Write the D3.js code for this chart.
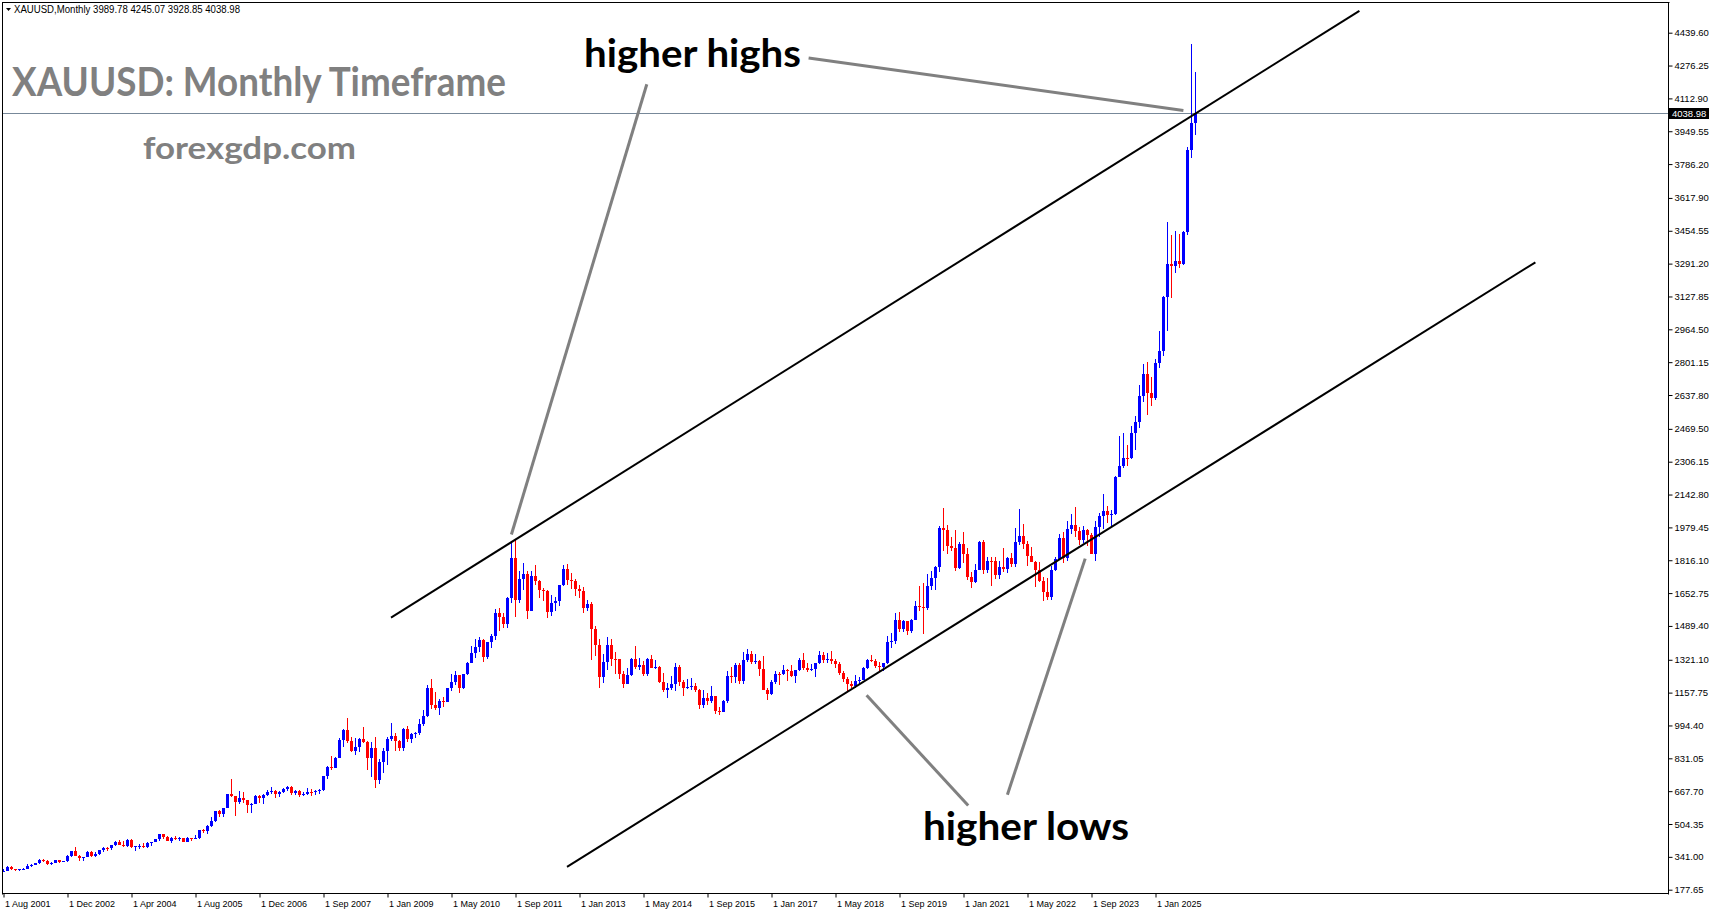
<!DOCTYPE html>
<html>
<head>
<meta charset="utf-8">
<script src="https://cdn.jsdelivr.net/npm/d3@7"></script>
<style>
  html, body { margin: 0; padding: 0; background: #ffffff; }
  svg { display: block; }
</style>
</head>
<body>
<div id="chart"></div>
<script>
// ---------------- DATA ----------------
// Monthly XAUUSD bars, Aug 2001 .. Nov 2025 (broker feed has 7 extra bars in 2007)
const open = [
  265,273,293,279,275,
  279,282,297,302,308,327,318,304,312,324,317,319,
  347,368,347,334,339,364,346,354,375,384,383,398,
  416,400,396,427,388,394,395,391,408,416,428,453,
  438,422,435,428,435,417,435,429,433,473,470,495,
  517,568,556,582,654,643,613,633,624,599,604,646,
  632,650,665,668,655,663,679,686,659,667,650,656,665,662,668,
  672,743,789,783,
  834,923,972,916,865,885,928,912,833,880,724,814,
  869,928,942,917,883,978,927,954,955,1001,1040,1182,
  1096,1083,1118,1113,1179,1213,1244,1181,1248,1307,1357,1386,
  1421,1333,1410,1439,1556,1536,1500,1628,1826,1620,1722,1746,
  1564,1738,1711,1668,1664,1560,1604,1614,1692,1773,1719,1712,
  1675,1663,1578,1596,1472,1393,1234,1312,1395,1326,1323,1250,
  1202,1244,1326,1284,1296,1250,1327,1282,1287,1210,1171,1182,
  1199,1283,1212,1183,1184,1190,1172,1095,1132,1115,1142,1065,
  1061,1118,1238,1233,1293,1215,1321,1351,1309,1316,1277,1173,
  1151,1211,1249,1248,1268,1267,1242,1269,1322,1280,1271,1275,
  1303,1345,1318,1325,1315,1299,1253,1224,1201,1192,1215,1222,
  1282,1321,1313,1292,1284,1305,1409,1413,1520,1472,1513,1464,
  1517,1589,1585,1577,1686,1730,1781,1975,1968,1886,1879,1776,
  1898,1847,1734,1708,1769,1906,1770,1814,1813,1743,1783,1774,
  1829,1797,1909,1937,1896,1837,1807,1766,1711,1660,1633,1768,
  1824,1928,1827,1969,1990,1963,1919,1965,1940,1849,1983,2036,
  2063,2039,2044,2230,2286,2327,2326,2447,2503,2635,2744,2650,
  2625,2798,2858,3123,3288,3280,3303,3290,3448,3858,3989.78
];
const high = [
  280,294,294,279,280,
  284,304,304,311,328,330,323,317,326,325,322,350,
  372,389,352,342,372,368,366,377,391,392,399,418,
  427,419,428,429,397,403,410,416,416,431,456,456,
  443,438,446,438,436,442,437,448,474,478,497,540,
  570,575,586,654,730,643,668,663,625,610,649,648,
  652,671,690,672,668,682,694,692,672,672,663,683,676,674,676,
  744,795,845,838,
  930,975,1033,935,932,934,988,919,910,935,830,883,
  935,1006,958,921,983,990,959,964,1025,1070,1195,1227,
  1162,1127,1138,1183,1249,1265,1244,1251,1308,1388,1424,1432,
  1424,1411,1447,1575,1577,1556,1632,1913,1921,1764,1803,1764,
  1764,1791,1720,1677,1668,1641,1631,1693,1790,1796,1754,1723,
  1694,1683,1617,1606,1487,1423,1348,1434,1425,1361,1324,1267,
  1280,1332,1392,1332,1315,1332,1345,1322,1288,1255,1208,1239,
  1307,1294,1220,1224,1232,1205,1175,1170,1157,1191,1143,1088,
  1123,1263,1283,1304,1304,1362,1375,1367,1352,1318,1338,1180,
  1220,1264,1262,1296,1274,1296,1270,1331,1357,1306,1299,1306,
  1366,1361,1356,1365,1326,1309,1266,1236,1214,1243,1237,1284,
  1326,1346,1324,1310,1306,1439,1453,1555,1557,1517,1516,1525,
  1611,1689,1704,1748,1765,1786,1984,2075,1992,1933,1966,1906,
  1959,1875,1756,1798,1913,1916,1834,1832,1834,1814,1877,1831,
  1853,1974,2070,1998,1910,1880,1814,1808,1735,1730,1786,1833,
  1949,1959,2009,2048,2079,1983,1987,1972,1953,2009,2052,2145,
  2088,2065,2236,2432,2450,2388,2484,2532,2686,2790,2801,2726,
  2817,2956,3128,3500,3435,3452,3439,3453,3872,4381,4245.07
];
const low = [
  264,270,276,270,271,
  277,281,289,299,306,313,301,301,310,311,314,317,
  342,345,321,322,338,342,341,350,366,370,377,396,
  398,392,390,385,371,381,386,387,397,413,422,430,
  418,411,423,421,414,414,418,428,432,462,457,489,
  516,538,540,582,637,543,606,610,560,560,604,607,
  603,646,656,636,640,660,670,651,649,640,642,648,643,649,656,
  667,726,774,781,
  834,887,905,864,850,862,908,774,736,681,705,758,
  800,915,866,865,869,914,908,930,949,992,1035,1075,
  1072,1044,1088,1110,1165,1197,1157,1176,1243,1307,1331,1361,
  1309,1325,1381,1417,1462,1477,1478,1604,1532,1605,1667,1523,
  1563,1695,1627,1614,1527,1540,1565,1587,1688,1692,1673,1636,
  1626,1555,1562,1321,1339,1180,1208,1271,1292,1251,1226,1182,
  1202,1238,1277,1268,1240,1240,1281,1273,1205,1161,1131,1170,
  1167,1191,1142,1176,1169,1162,1077,1080,1098,1107,1053,1046,
  1060,1106,1208,1207,1199,1200,1310,1302,1302,1241,1171,1122,
  1146,1200,1195,1244,1214,1236,1205,1267,1272,1260,1264,1236,
  1302,1307,1303,1302,1282,1245,1211,1160,1180,1182,1196,1221,
  1276,1310,1281,1266,1267,1301,1381,1400,1459,1459,1445,1455,
  1517,1563,1451,1567,1670,1670,1757,1863,1849,1860,1765,1775,
  1802,1717,1677,1705,1766,1750,1751,1688,1721,1721,1758,1753,
  1780,1781,1890,1872,1787,1805,1681,1709,1614,1617,1616,1765,
  1823,1804,1810,1949,1932,1893,1903,1885,1846,1810,1931,1973,
  2002,1985,2039,2229,2277,2287,2319,2364,2472,2604,2537,2583,
  2614,2772,2833,2957,3121,3246,3268,3282,3436,3815,3928.85
];
const close = [
  273,293,279,275,279,
  282,297,302,308,327,318,304,312,324,317,319,347,
  368,347,334,339,364,346,354,375,384,383,398,416,
  400,396,427,388,394,395,391,408,416,428,453,438,
  422,435,428,435,417,435,429,433,473,470,495,517,
  568,556,582,654,643,613,633,624,599,604,646,632,
  650,665,668,655,663,679,686,659,667,650,656,665,662,668,672,
  743,789,783,834,
  923,972,916,865,885,928,912,833,880,724,814,869,
  928,942,917,883,978,927,954,955,1001,1040,1182,1096,
  1083,1118,1113,1179,1213,1244,1181,1248,1307,1357,1386,1421,
  1333,1410,1439,1556,1536,1500,1628,1826,1620,1722,1746,1564,
  1738,1711,1668,1664,1560,1604,1614,1692,1773,1719,1712,1675,
  1663,1578,1596,1472,1393,1234,1312,1395,1326,1323,1250,1202,
  1244,1326,1284,1296,1250,1327,1282,1287,1210,1171,1182,1199,
  1283,1212,1183,1184,1190,1172,1095,1132,1115,1142,1065,1061,
  1118,1238,1233,1293,1215,1321,1351,1309,1316,1277,1173,1151,
  1211,1249,1248,1268,1267,1242,1269,1322,1280,1271,1275,1303,
  1345,1318,1325,1315,1299,1253,1224,1201,1192,1215,1222,1282,
  1321,1313,1292,1284,1305,1409,1413,1520,1472,1513,1464,1517,
  1589,1585,1577,1686,1730,1781,1975,1968,1886,1879,1776,1898,
  1847,1734,1708,1769,1906,1770,1814,1813,1743,1783,1774,1829,
  1797,1909,1937,1896,1837,1807,1766,1711,1660,1633,1768,1824,
  1928,1827,1969,1990,1963,1919,1965,1940,1849,1983,2036,2063,
  2039,2044,2230,2286,2327,2326,2447,2503,2635,2744,2650,2625,
  2798,2858,3123,3288,3280,3303,3290,3448,3858,3989.78,4038.98
];

// time axis labels (one every 16 bars)
const timeLabels = ["1 Aug 2001","1 Dec 2002","1 Apr 2004","1 Aug 2005","1 Dec 2006",
  "1 Sep 2007","1 Jan 2009","1 May 2010","1 Sep 2011","1 Jan 2013","1 May 2014",
  "1 Sep 2015","1 Jan 2017","1 May 2018","1 Sep 2019","1 Jan 2021","1 May 2022",
  "1 Sep 2023","1 Jan 2025"];
const timeLabelStep = 16;

// price axis labels
const priceTicks = [4439.60,4276.25,4112.90,3949.55,3786.20,3617.90,3454.55,3291.20,
  3127.85,2964.50,2801.15,2637.80,2469.50,2306.15,2142.80,1979.45,1816.10,1652.75,
  1489.40,1321.10,1157.75,994.40,831.05,667.70,504.35,341.00,177.65];

const symbol = "XAUUSD,Monthly";
const lastPrice = 4038.98;

// trend channel lines: [barIndex, price]
const upperChannel = [[97.0, 1531], [339.1, 4548]];
const lowerChannel = [[141.0, 291.5], [383.1, 3297.7]];
// annotation pointers: [barIndex, price]
const pointers = [
  [[201.4, 4314], [295.1, 4053]],
  [[160.95, 4183], [127.1, 1944]],
  [[215.9, 1145], [241.3, 596]],
  [[270.55, 1824], [251.1, 650]]
];

// ---------------- CHART ----------------
const W = 1714, H = 915;
const plotRight = 1669, plotBottom = 894;

const svg = d3.select("#chart").append("svg")
  .attr("width", W).attr("height", H)
  .style("font-family", "'Liberation Sans', Arial, sans-serif");

svg.append("rect").attr("width", W).attr("height", H).attr("fill", "#ffffff");

const x = d3.scaleLinear().domain([0, 416.5]).range([3, 3 + 416.5 * 4]);
const y = d3.scaleLinear().domain([177.65, 4439.60]).range([889.7, 32.7]);

const plot = svg.append("g");
svg.append("clipPath").attr("id", "clip")
  .append("rect").attr("x", 2).attr("y", 2).attr("width", plotRight - 2).attr("height", plotBottom - 2);
const inner = plot.append("g").attr("clip-path", "url(#clip)");

// last price line
inner.append("line")
  .attr("x1", 2).attr("x2", plotRight)
  .attr("y1", Math.round(y(lastPrice)) + 0.5).attr("y2", Math.round(y(lastPrice)) + 0.5)
  .attr("stroke", "#778899").attr("stroke-width", 1);

// candles
const bars = d3.range(close.length).map(i => ({i, o: open[i], h: high[i], l: low[i], c: close[i]}));
const cg = inner.append("g");
const cand = cg.selectAll("g.c").data(bars).join("g").attr("class", "c");
cand.append("rect")
  .attr("x", d => Math.round(x(d.i)))
  .attr("width", 1)
  .attr("y", d => Math.round(y(d.h)))
  .attr("height", d => Math.max(1, Math.round(y(d.l)) - Math.round(y(d.h))))
  .attr("fill", d => d.c >= d.o ? "#0000ff" : "#ff0000");
cand.append("rect")
  .attr("x", d => Math.round(x(d.i)) - 1)
  .attr("width", 3)
  .attr("y", d => Math.round(y(Math.max(d.o, d.c))))
  .attr("height", d => Math.max(1, Math.round(y(Math.min(d.o, d.c))) - Math.round(y(Math.max(d.o, d.c)))))
  .attr("fill", d => d.c >= d.o ? "#0000ff" : "#ff0000");

// channel lines
const lineGen = d3.line().x(d => x(d[0])).y(d => y(d[1]));
[upperChannel, lowerChannel].forEach(seg => {
  inner.append("path").attr("d", lineGen(seg))
    .attr("stroke", "#000000").attr("stroke-width", 2).attr("fill", "none");
});
pointers.forEach(seg => {
  inner.append("path").attr("d", lineGen(seg))
    .attr("stroke", "#808080").attr("stroke-width", 3).attr("fill", "none");
});

// annotation texts
function fitText(txt, x0, x1, baseline, size, color) {
  svg.append("text").text(txt)
    .attr("x", x0).attr("y", baseline)
    .attr("font-family", "Lato, 'Open Sans', sans-serif")
    .attr("font-weight", 700)
    .attr("font-size", size)
    .attr("fill", color)
    .attr("textLength", x1 - x0)
    .attr("lengthAdjust", "spacingAndGlyphs");
}
fitText("XAUUSD: Monthly Timeframe", 12, 506, 96, 40, "#808080");
fitText("forexgdp.com", 143, 356, 159, 30, "#808080");
fitText("higher highs", 584, 801, 66.5, 39, "#000000");
fitText("higher lows", 923, 1129, 840, 39, "#000000");

// frame
svg.append("line").attr("x1", 2.5).attr("x2", 2.5).attr("y1", 2).attr("y2", plotBottom + 0.5)
  .attr("stroke", "#000").attr("stroke-width", 1);
svg.append("line").attr("x1", 2).attr("x2", plotRight + 0.5).attr("y1", 2.5).attr("y2", 2.5)
  .attr("stroke", "#000").attr("stroke-width", 1);
svg.append("line").attr("x1", plotRight - 0.5).attr("x2", plotRight - 0.5).attr("y1", 2).attr("y2", plotBottom + 0.5)
  .attr("stroke", "#000").attr("stroke-width", 1);
svg.append("line").attr("x1", 2).attr("x2", plotRight).attr("y1", plotBottom - 0.5).attr("y2", plotBottom - 0.5)
  .attr("stroke", "#000").attr("stroke-width", 1);

// price axis
const yAxis = d3.axisRight(y).tickValues(priceTicks).tickSize(4).tickPadding(2)
  .tickFormat(d => d.toFixed(2));
const ya = svg.append("g").attr("transform", `translate(${plotRight - 0.5},0)`).call(yAxis);
ya.select(".domain").remove();
ya.selectAll(".tick line").attr("stroke", "#000");
ya.selectAll(".tick text").attr("font-size", 9.5).attr("fill", "#000")
  .attr("font-family", "'Liberation Sans', Arial, sans-serif");

// last price box
const ly = Math.round(y(lastPrice));
svg.append("rect").attr("x", plotRight).attr("y", ly - 5).attr("width", 40).attr("height", 11).attr("fill", "#000");
svg.append("text").text(lastPrice.toFixed(2)).attr("x", plotRight + 3).attr("y", ly + 4)
  .attr("font-size", 9.5).attr("fill", "#fff");

// time axis
const tickIdx = timeLabels.map((t, k) => k * timeLabelStep);
const xAxis = d3.axisBottom(x).tickValues(tickIdx).tickSize(4).tickPadding(3)
  .tickFormat((d, k) => timeLabels[k]);
const xa = svg.append("g").attr("transform", `translate(0.5,${plotBottom - 0.5})`).call(xAxis);
xa.select(".domain").remove();
xa.selectAll(".tick line").attr("stroke", "#000");
xa.selectAll(".tick text").attr("font-size", 9).attr("fill", "#000")
  .attr("text-anchor", "start").attr("dx", 1)
  .attr("font-family", "'Liberation Sans', Arial, sans-serif");

// header
svg.append("path").attr("d", "M6,8 L11,8 L8.5,11 Z").attr("fill", "#000");
svg.append("text")
  .text(`${symbol}  ${open[open.length-1].toFixed(2)} ${high[high.length-1].toFixed(2)} ${low[low.length-1].toFixed(2)} ${close[close.length-1].toFixed(2)}`)
  .attr("x", 14).attr("y", 13).attr("font-size", 10).attr("fill", "#000")
  .attr("textLength", 226).attr("lengthAdjust", "spacingAndGlyphs");
</script>
</body>
</html>
